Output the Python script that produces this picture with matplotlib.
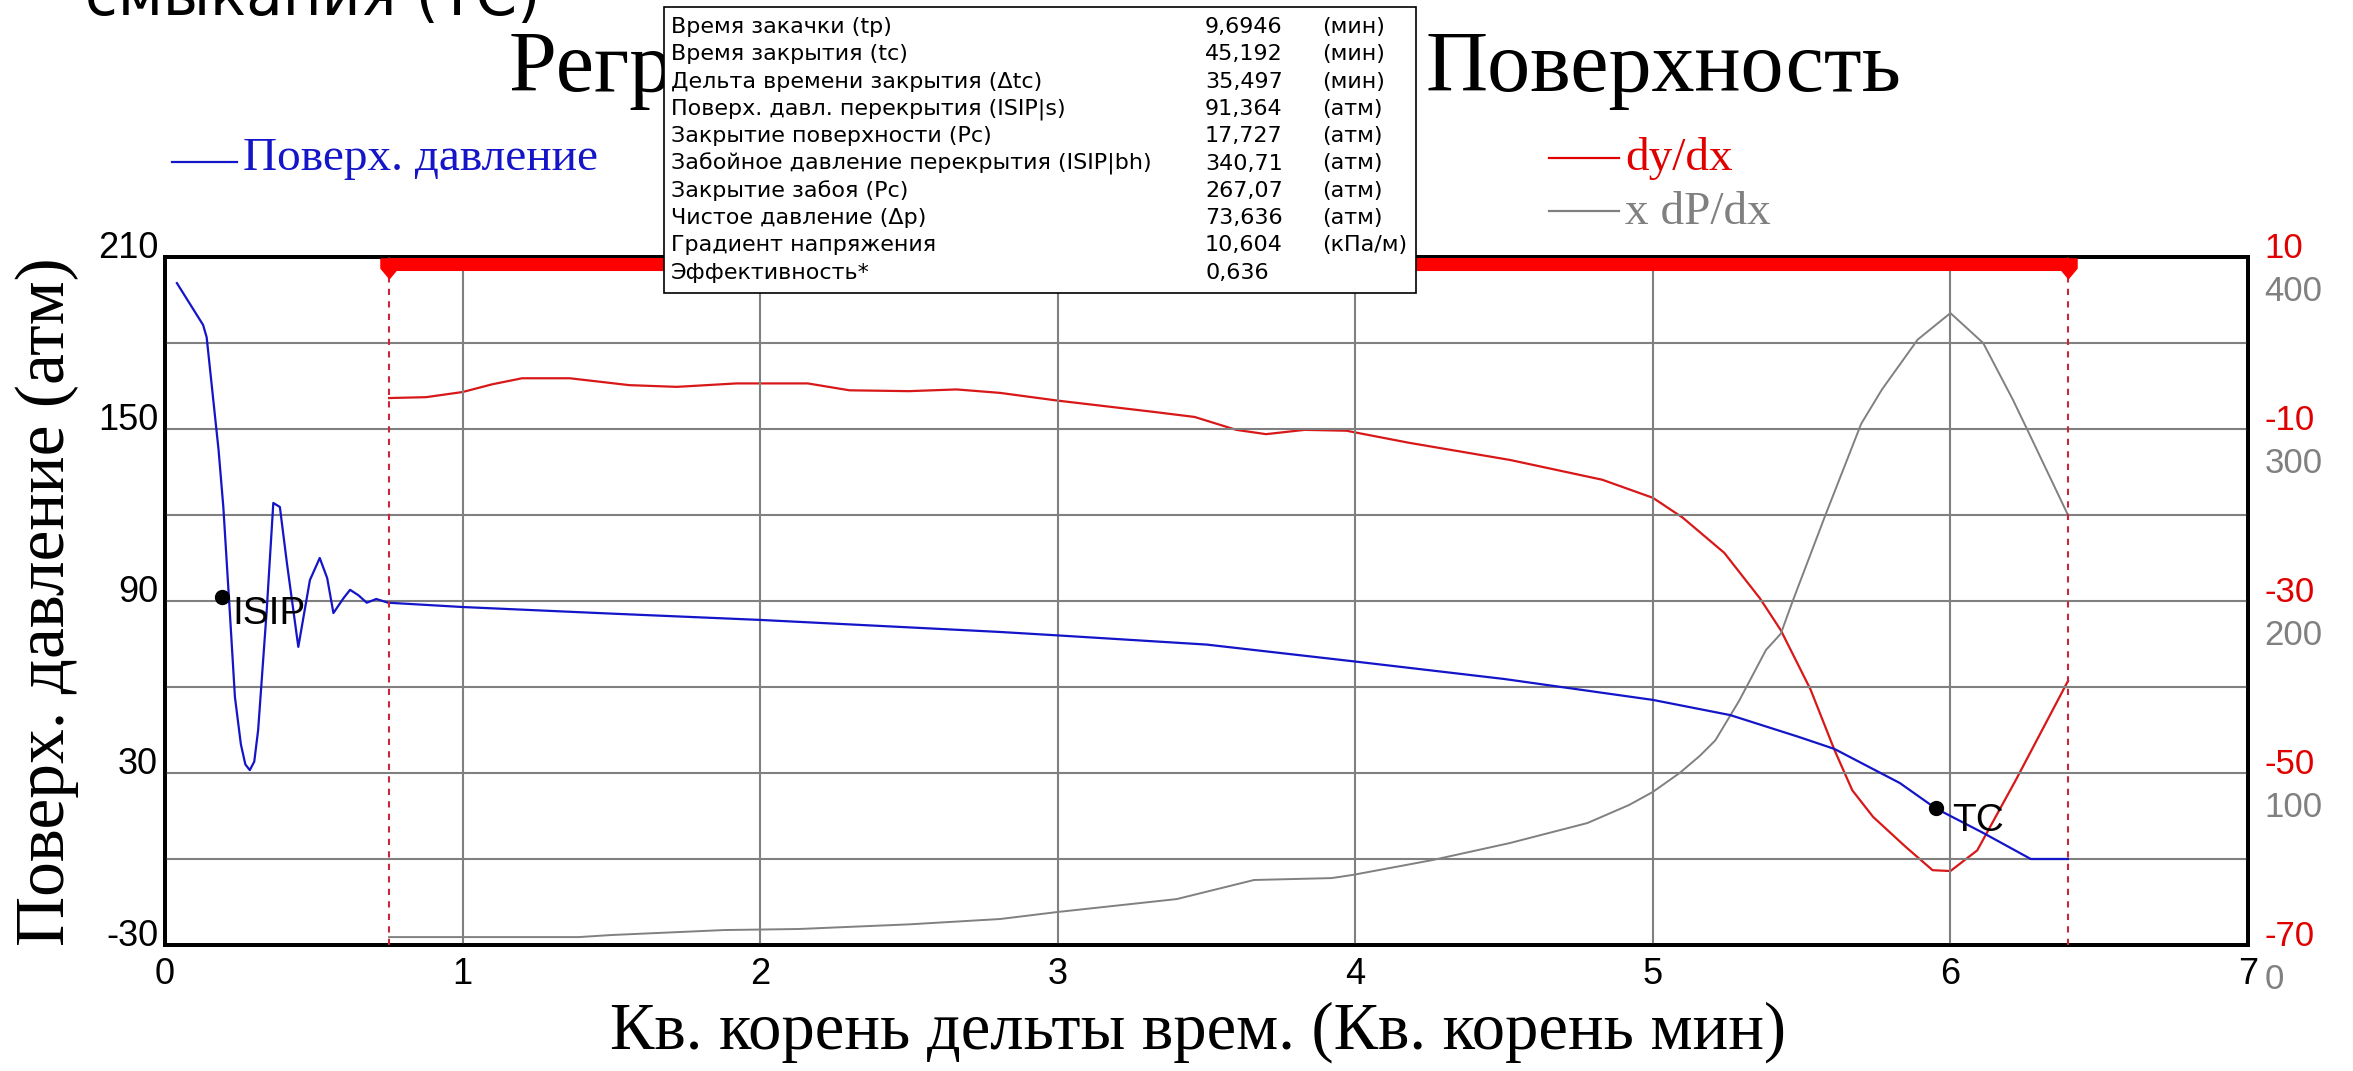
import matplotlib
matplotlib.use("Agg")
import matplotlib.pyplot as plt
import matplotlib.transforms as mtransforms
from matplotlib.patches import Rectangle
from matplotlib.lines import Line2D

DPI = 100
W, H = 2353, 1071

SERIF = "Liberation Serif"
SANS = "Liberation Sans"
plt.rcParams["axes.unicode_minus"] = False

# surface pressure, atm (left axis)
p_x = [0.04, 0.128, 0.14, 0.18, 0.196, 0.218, 0.235, 0.255, 0.27, 0.285, 0.3,
       0.313, 0.342, 0.364, 0.386, 0.41, 0.448, 0.487, 0.52, 0.545, 0.566, 0.6,
       0.622, 0.65, 0.678, 0.71, 0.75, 1.0, 1.5, 2.0, 2.5, 2.806, 3.0, 3.5,
       3.99, 4.5, 5.0, 5.26, 5.49, 5.61, 5.83, 5.95, 6.11, 6.27, 6.395]
p_y = [200.9, 186.3, 182.0, 142.7, 122.8, 85.8, 56.5, 40.0, 33.0, 31.0, 34.0,
       45.0, 87.0, 124.2, 122.8, 103.0, 74.0, 97.3, 105.0, 98.0, 85.8, 91.0,
       93.9, 92.0, 89.4, 90.7, 89.4, 87.9, 85.6, 83.4, 80.8, 79.2, 78.0, 74.8,
       69.0, 62.8, 55.5, 50.2, 42.6, 38.4, 26.5, 17.7, 9.1, 0.0, 0.0]

# dy/dx (red right axis)
d_x = [0.753, 0.877, 1.0, 1.1, 1.2, 1.36, 1.56, 1.72, 1.92, 2.16, 2.3, 2.5,
       2.66, 2.806, 3.0, 3.32, 3.46, 3.6, 3.7, 3.83, 3.97, 4.18, 4.52, 4.83,
       5.0, 5.1, 5.24, 5.36, 5.43, 5.53, 5.61, 5.67, 5.74, 5.85, 5.94, 6.0,
       6.09, 6.22, 6.395]
d_y = [-6.4, -6.3, -5.7, -4.8, -4.1, -4.1, -4.9, -5.1, -4.7, -4.7, -5.5, -5.6,
       -5.4, -5.8, -6.7, -8.0, -8.6, -10.1, -10.6, -10.1, -10.2, -11.6, -13.6,
       -15.9, -18.0, -20.3, -24.4, -29.7, -33.4, -40.3, -47.3, -52.0, -55.1,
       -58.6, -61.3, -61.4, -59.0, -50.8, -39.3]

# x dP/dx (gray right axis)
g_x = [0.753, 1.0, 1.39, 1.5, 1.88, 2.13, 2.5, 2.806, 3.0, 3.4, 3.66, 3.92,
       3.99, 4.26, 4.52, 4.78, 4.92, 5.0, 5.09, 5.158, 5.21, 5.29, 5.38, 5.43,
       5.47, 5.58, 5.7, 5.77, 5.89, 6.0, 6.11, 6.21, 6.26, 6.395]
g_y = [4.6, 4.6, 4.6, 5.8, 8.7, 9.3, 12.0, 15.1, 19.2, 26.7, 37.8, 38.9, 40.7,
       49.4, 59.3, 70.9, 81.4, 89.0, 100.0, 110.0, 119.0, 142.0, 171.5, 181.0,
       200.0, 250.0, 303.0, 323.0, 352.0, 367.4, 350.0, 317.0, 299.0, 250.0]

isip = (0.19, 91.364)
tc = (5.95, 17.727)
window = (0.753, 6.395)

left_ticks = [-30, 30, 90, 150, 210]
red_ticks = [10, -10, -30, -50, -70]
gray_ticks = [0, 100, 200, 300, 400]

info_rows = [
    ("Время закачки (tp)", "9,6946", "(мин)"),
    ("Время закрытия (tc)", "45,192", "(мин)"),
    ("Дельта времени закрытия (Δtc)", "35,497", "(мин)"),
    ("Поверх. давл. перекрытия (ISIP|s)", "91,364", "(атм)"),
    ("Закрытие поверхности (Pc)", "17,727", "(атм)"),
    ("Забойное давление перекрытия (ISIP|bh)", "340,71", "(атм)"),
    ("Закрытие забоя (Pc)", "267,07", "(атм)"),
    ("Чистое давление (Δp)", "73,636", "(атм)"),
    ("Градиент напряжения", "10,604", "(кПа/м)"),
    ("Эффективность*", "0,636", ""),
]

BLUE = "#1414c8"
RED = "#d81818"
GRAY = "#808080"
DASH_RED = "#c8283c"


def fx(px):
    return px / W


def fy(py):
    return 1 - py / H


def shift_labels(labels, dy_px):
    off = mtransforms.ScaledTranslation(0, dy_px / DPI, fig.dpi_scale_trans)
    for lbl in labels:
        lbl.set_transform(lbl.get_transform() + off)


fig = plt.figure(figsize=(W / DPI, H / DPI), dpi=DPI)
ax = fig.add_axes([fx(165), fy(945), fx(2248) - fx(165), fy(257) - fy(945)])
ax_r = ax.twinx()
ax_g = ax.twinx()

ax.set_xlim(0, 7)
ax.set_ylim(-30, 210)
ax_r.set_ylim(-70, 10)
ax_g.set_ylim(0, 400)

ax.set_xticks(range(8))
ax.set_yticks(left_ticks)
ax.set_yticks(range(-30, 211, 30), minor=True)
ax.grid(True, which="both", color=GRAY, lw=1.5)
ax.set_axisbelow(True)
ax.tick_params(axis="both", which="both", length=0)
ax.tick_params(axis="x", labelsize=26, pad=9)
ax.tick_params(axis="y", labelsize=26, pad=5)
for lbl in ax.get_xticklabels() + ax.get_yticklabels():
    lbl.set_fontfamily(SANS)

ax_r.set_yticks(red_ticks)
ax_r.tick_params(axis="y", length=0, labelsize=25, pad=12, labelcolor="#e00000")
ax_g.set_yticks(gray_ticks)
ax_g.tick_params(axis="y", length=0, labelsize=25, pad=12, labelcolor=GRAY)
for a in (ax_r, ax_g):
    for lbl in a.get_yticklabels():
        lbl.set_fontfamily(SANS)

shift_labels(ax.get_yticklabels(), 13)
shift_labels(ax_r.get_yticklabels(), 12)
shift_labels(ax_g.get_yticklabels(), -31)

for a in (ax, ax_r, ax_g):
    for s in a.spines.values():
        s.set_linewidth(2.6)
        s.set_color("black")

# curves
ax_g.plot(g_x, g_y, color=GRAY, lw=1.4, zorder=2)
ax_r.plot(d_x, d_y, color=RED, lw=1.6, zorder=2)
ax.plot(p_x, p_y, color=BLUE, lw=1.6, zorder=3)
ax.set_zorder(ax_g.get_zorder() + 1)
ax.patch.set_visible(False)

# analysis window: dashed bounds and bar along the top
for xv in window:
    ax.axvline(xv, color=DASH_RED, lw=1.5, ls=(0, (3, 3)), zorder=4)
top = mtransforms.blended_transform_factory(ax.transData, ax.transAxes)
ax.plot(window, [0.9905, 0.9905], transform=top, color="#ff0000", lw=9.4,
        solid_capstyle="butt", clip_on=False, zorder=5)
pin = [(-1, 1), (1, 1), (1, -0.1), (0, -1.3), (-1, -0.1), (-1, 1)]
ax.plot(window, [0.985, 0.985], transform=top, ls="none", marker=pin,
        markersize=16, color="#ff0000", clip_on=False, zorder=5)

# ISIP and closure points
for (xv, yv), name, off in ((isip, "ISIP", (8, -12)), (tc, "TC", (12, -9))):
    ax.plot([xv], [yv], "o", color="black", markersize=10, zorder=6)
    ax.annotate(name, (xv, yv), xytext=off, textcoords="offset points",
                ha="left", va="center", fontsize=28, fontfamily=SANS, zorder=6)

# titles and axis labels
fig.text(fx(85), fy(15), "смыкания (ТС)", fontsize=43, fontfamily="DejaVu Sans",
         ha="left", va="baseline")
fig.text(fx(509), fy(91), "Регрессия кв. корня –", fontsize=62, fontfamily=SERIF,
         ha="left", va="baseline", zorder=1)
fig.text(fx(1901), fy(91), "Поверхность", fontsize=62, fontfamily=SERIF,
         ha="right", va="baseline", zorder=1)
fig.text(fx(1198), fy(1032), "Кв. корень дельты врем. (Кв. корень мин)",
         fontsize=48, fontfamily=SERIF, ha="center", va="center")
fig.text(fx(47), fy(602), "Поверх. давление (атм)", fontsize=50, fontfamily=SERIF,
         rotation=90, ha="center", va="center")

# legend entries
legend = [
    (172, 237, 162, 170, "Поверх. давление", BLUE),
    (1549, 1619, 158, 170, "dy/dx", "#e00000"),
    (1549, 1619, 211, 224, "x dP/dx", GRAY),
]
for x0, x1, yl, yb, label, col in legend:
    fig.add_artist(Line2D([fx(x0), fx(x1)], [fy(yl), fy(yl)], color=col, lw=1.6))
    fig.text(fx(x1 + 6), fy(yb), label, fontsize=34, fontfamily=SERIF,
             color=col, ha="left", va="baseline")

# results box
box = Rectangle((fx(664), fy(293)), fx(1416) - fx(664), fy(7) - fy(293),
                transform=fig.transFigure, facecolor="white", edgecolor="black",
                lw=1.2, zorder=20)
fig.add_artist(box)
for i, (label, value, unit) in enumerate(info_rows):
    yc = fy(27 + 27.3 * i)
    for xp, s in ((671, label), (1205, value), (1322, unit)):
        fig.text(fx(xp), yc, s, fontsize=16, fontfamily="DejaVu Sans",
                 ha="left", va="center", zorder=21)

fig.savefig("out.png", dpi=DPI, facecolor="white")
